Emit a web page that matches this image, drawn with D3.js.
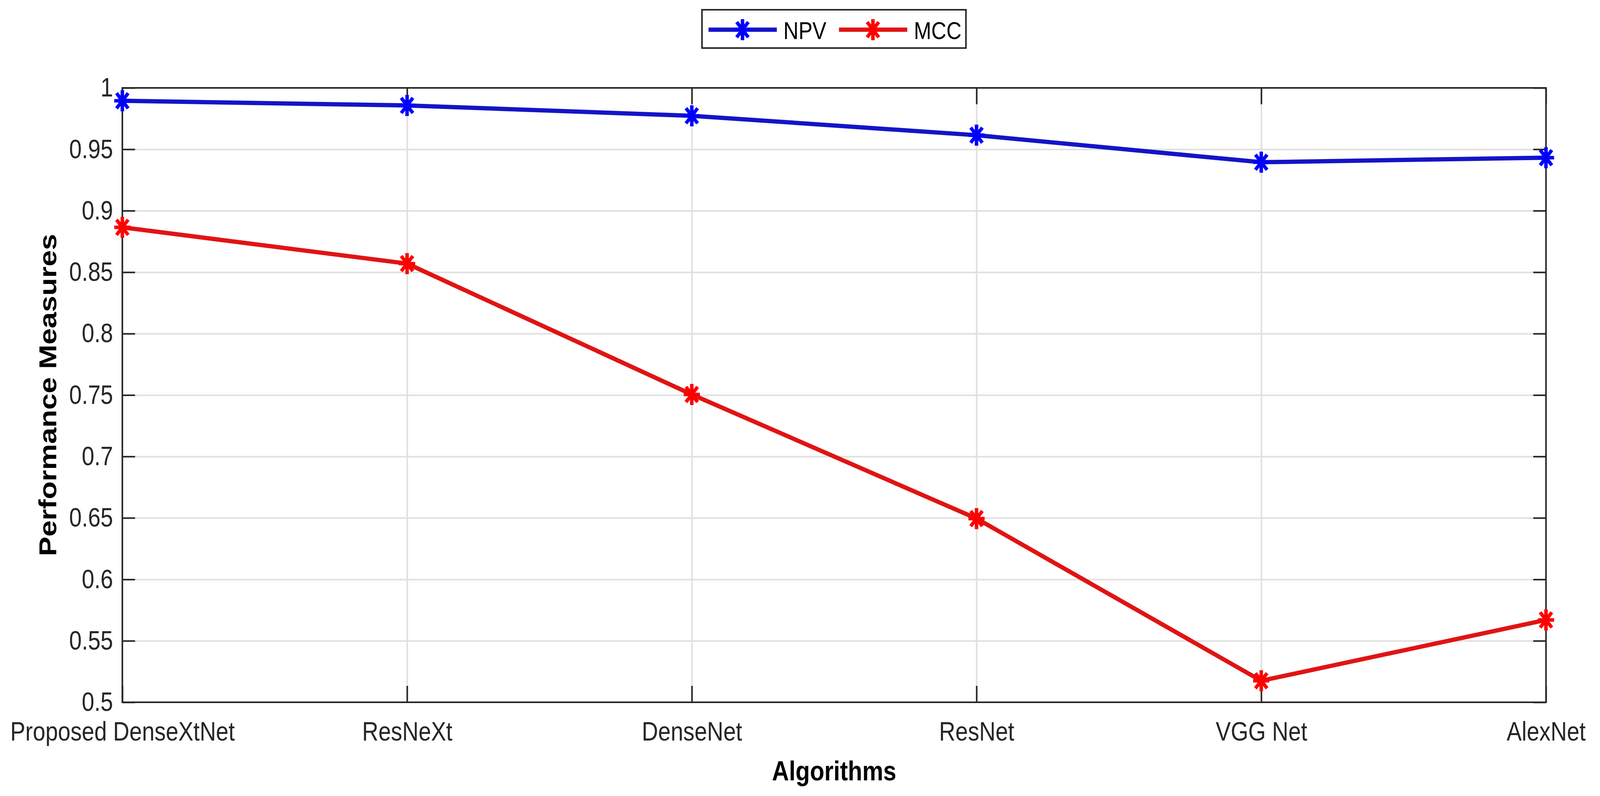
<!DOCTYPE html>
<html>
<head>
<meta charset="utf-8">
<script src="https://cdn.jsdelivr.net/npm/d3@7"></script>
<style>
  html, body { margin: 0; padding: 0; background: #fff; overflow: hidden; width: 100%; height: 100%; }
  #chart { width: 100vw; height: 100vh; }
  svg { display: block; width: 100%; height: 100%; }
  text { font-family: "Liberation Sans", Arial, Helvetica, sans-serif; }
</style>
</head>
<body>
<div id="chart"></div>
<script>
var categories = ['Proposed DenseXtNet', 'ResNeXt', 'DenseNet', 'ResNet', 'VGG Net', 'AlexNet'],
    npv = [0.9895, 0.9857, 0.9773, 0.9615, 0.9395, 0.9432],
    mcc = [0.8865, 0.857, 0.7505, 0.6495, 0.5175, 0.567],
    yTicks = [0.5, 0.55, 0.6, 0.65, 0.7, 0.75, 0.8, 0.85, 0.9, 0.95, 1],
    seriesNames = ['NPV', 'MCC']

var width = 4146,
    height = 2038,
    plot = { left: 317, right: 4006, top: 225, bottom: 1798 },
    squeeze = 0.86,   // the source figure has horizontally narrowed text
    ink = '#262626',
    colors = {
        NPV: { line: '#1414c8', marker: '#0000ff' },
        MCC: { line: '#e01414', marker: '#ff0000' }
    }

// scale to whatever the viewport really is, so nothing gets clipped at the right edge
var svg = d3.select('#chart').append('svg')
    .attr('viewBox', '0 0 ' + width + ' ' + height)
    .attr('preserveAspectRatio', 'none')

svg.append('rect').attr('width', width).attr('height', height).attr('fill', '#fff')

var x = d3.scalePoint().domain(categories).range([plot.left, plot.right]),
    y = d3.scaleLinear().domain([0.5, 1]).range([plot.bottom, plot.top])

var fmt = function (d) { return String(+d.toFixed(2)) }

// grid
var grid = svg.append('g').attr('class', 'grid')
grid.append('g')
    .attr('transform', 'translate(0,' + plot.bottom + ')')
    .call(d3.axisBottom(x).tickSize(-(plot.bottom - plot.top)).tickFormat(''))
grid.append('g')
    .attr('transform', 'translate(' + plot.left + ',0)')
    .call(d3.axisLeft(y).tickValues(yTicks).tickSize(-(plot.right - plot.left)).tickFormat(''))
grid.selectAll('.domain').remove()
grid.selectAll('line').attr('stroke', '#e0e0e0').attr('stroke-width', 4)

// axes with inward ticks
function styleAxis(g) {
    g.select('.domain').remove()
    g.selectAll('line').attr('stroke', ink).attr('stroke-width', 4)
    g.selectAll('text')
        .attr('fill', ink)
        .attr('font-size', 68)
}

var xAxis = svg.append('g')
    .attr('transform', 'translate(0,' + plot.bottom + ')')
    .call(d3.axisBottom(x).tickSizeInner(-42).tickSizeOuter(0).tickPadding(50))
    .call(styleAxis)
xAxis.selectAll('text').attr('transform', 'scale(' + squeeze + ',1)')

svg.append('g')
    .attr('transform', 'translate(0,' + plot.top + ')')
    .call(d3.axisTop(x).tickSizeInner(-42).tickSizeOuter(0).tickFormat(''))
    .call(styleAxis)

var yAxis = svg.append('g')
    .attr('transform', 'translate(' + plot.left + ',0)')
    .call(d3.axisLeft(y).tickValues(yTicks).tickFormat(fmt).tickSizeInner(-33).tickSizeOuter(0).tickPadding(24))
    .call(styleAxis)
yAxis.selectAll('text')
    .attr('x', -24 / squeeze)
    .attr('transform', 'scale(' + squeeze + ',1)')

svg.append('g')
    .attr('transform', 'translate(' + plot.right + ',0)')
    .call(d3.axisRight(y).tickValues(yTicks).tickFormat('').tickSizeInner(-33).tickSizeOuter(0))
    .call(styleAxis)

// box
svg.append('rect')
    .attr('x', plot.left).attr('y', plot.top)
    .attr('width', plot.right - plot.left).attr('height', plot.bottom - plot.top)
    .attr('fill', 'none').attr('stroke', ink).attr('stroke-width', 4)

// asterisk marker like MATLAB '*'
function asterisk(rx, ry) {
    var p = d3.path(), dx = rx * 0.72, dy = ry * 0.72
    p.moveTo(0, -ry); p.lineTo(0, ry)
    p.moveTo(-rx, 0); p.lineTo(rx, 0)
    p.moveTo(-dx, -dy); p.lineTo(dx, dy)
    p.moveTo(-dx, dy); p.lineTo(dx, -dy)
    return p.toString()
}

var line = d3.line()
    .x(function (d, i) { return x(categories[i]) })
    .y(function (d) { return y(d) })

function drawSeries(name, values) {
    var g = svg.append('g').attr('class', 'series')
    g.append('path')
        .attr('d', line(values))
        .attr('fill', 'none')
        .attr('stroke', colors[name].line)
        .attr('stroke-width', 11)
        .attr('stroke-linejoin', 'round')
    g.selectAll('path.marker').data(values).enter().append('path')
        .attr('class', 'marker')
        .attr('transform', function (d, i) { return 'translate(' + x(categories[i]) + ',' + y(d) + ')' })
        .attr('d', asterisk(21, 27))
        .attr('fill', 'none')
        .attr('stroke', colors[name].marker)
        .attr('stroke-width', 9)
}

drawSeries('NPV', npv)
drawSeries('MCC', mcc)

// axis titles
svg.append('text')
    .attr('transform', 'translate(' + ((plot.left + plot.right) / 2) + ',1998) scale(' + squeeze + ',1)')
    .attr('text-anchor', 'middle')
    .attr('font-size', 71)
    .attr('font-weight', 'bold')
    .attr('fill', '#000')
    .text('Algorithms')

svg.append('text')
    .attr('transform', 'translate(146,' + ((plot.top + plot.bottom) / 2) + ') scale(' + squeeze + ',1) rotate(-90)')
    .attr('text-anchor', 'middle')
    .attr('font-size', 75)
    .attr('font-weight', 'bold')
    .attr('fill', '#000')
    .text('Performance Measures')

// legend
var legend = svg.append('g').attr('class', 'legend')
legend.append('rect')
    .attr('x', 1819).attr('y', 25)
    .attr('width', 684).attr('height', 98)
    .attr('fill', '#fff').attr('stroke', ink).attr('stroke-width', 4)

var legendItems = [{ name: 'NPV', x0: 1836 }, { name: 'MCC', x0: 2174 }]
legendItems.forEach(function (item) {
    var ly = 76
    legend.append('line')
        .attr('x1', item.x0).attr('x2', item.x0 + 177)
        .attr('y1', ly).attr('y2', ly)
        .attr('stroke', colors[item.name].line).attr('stroke-width', 11)
    legend.append('path')
        .attr('transform', 'translate(' + (item.x0 + 88) + ',' + ly + ')')
        .attr('d', asterisk(21, 27))
        .attr('fill', 'none')
        .attr('stroke', colors[item.name].marker)
        .attr('stroke-width', 9)
    legend.append('text')
        .attr('transform', 'translate(' + (item.x0 + 194) + ',100) scale(' + squeeze + ',1)')
        .attr('font-size', 63)
        .attr('fill', '#000')
        .text(item.name)
})
</script>
</body>
</html>
